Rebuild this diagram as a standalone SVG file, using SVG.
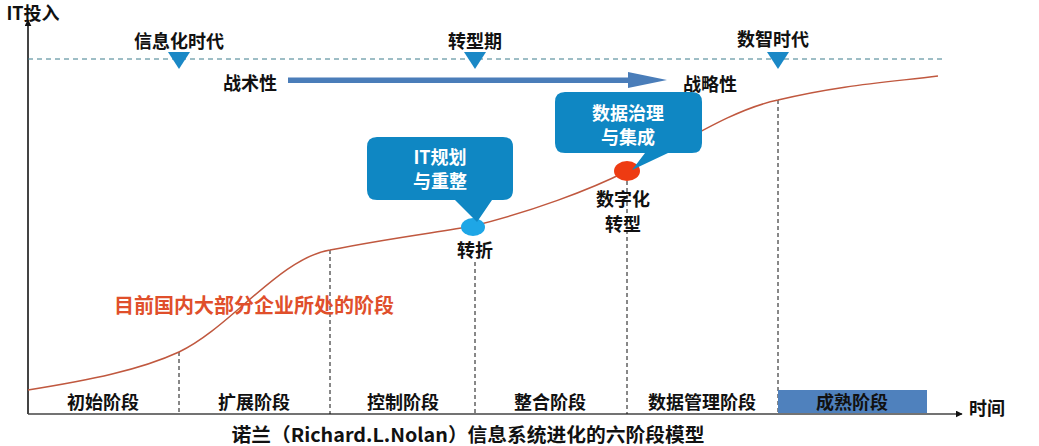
<svg xmlns="http://www.w3.org/2000/svg" width="1039" height="446" viewBox="0 0 1039 446">
<defs>
<style>
.t{font-family:"Noto Sans CJK SC","Liberation Sans",sans-serif;font-weight:bold;fill:#111;font-size:18px;text-anchor:middle}
.w{fill:#fff}
.vd{stroke:#111;stroke-width:1;stroke-dasharray:4,3;fill:none}
.tri{fill:#1a88c6}
.call{fill:#0f87c3}
</style>
<marker id="ah" viewBox="0 0 10 10" refX="9" refY="5" markerWidth="7" markerHeight="7" orient="auto" markerUnits="userSpaceOnUse">
<path d="M0,0 L10,5 L0,10 z" fill="#111"/>
</marker>
</defs>
<rect width="1039" height="446" fill="#fff"/>

<g id="axes">
<line x1="28" y1="414" x2="28" y2="20" stroke="#444" stroke-width="2" marker-end="url(#ah)"/>
<line x1="28" y1="414" x2="962" y2="414" stroke="#444" stroke-width="1.5" marker-end="url(#ah)"/>
<text class="t" x="33" y="20">IT投入</text>
<text class="t" x="987" y="415">时间</text>
</g>

<g id="dashed-top">
<line x1="28" y1="59" x2="943" y2="59" stroke="#3d7d8c" stroke-width="1" stroke-dasharray="5,4"/>
</g>

<g id="eras">
<g id="era1"><path class="tri" d="M168,52 L190,52 L179,69 z"/><text class="t" x="179" y="48">信息化时代</text></g>
<g id="era2"><path class="tri" d="M464,52 L486,52 L475,69 z"/><text class="t" x="475" y="48">转型期</text></g>
<g id="era3"><path class="tri" d="M767,52 L789,52 L778,69 z"/><text class="t" x="773" y="46">数智时代</text></g>
</g>

<g id="strategy">
<path d="M288,77.5 L628,77.5 L628,72 L667,80 L628,88 L628,83 L288,83 z" fill="#4a7db9"/>
<text class="t" x="250" y="90">战术性</text>
<text class="t" x="710" y="91">战略性</text>
</g>

<g id="connectors">
<line class="vd" x1="179" y1="352" x2="179" y2="414"/>
<line class="vd" x1="330" y1="250" x2="330" y2="414"/>
<line class="vd" x1="475" y1="262" x2="475" y2="414"/>
<line class="vd" x1="627" y1="181" x2="627" y2="414"/>
<line class="vd" x1="778" y1="100" x2="778" y2="414"/>
<path d="M28,390 C90,380 140,370 179,352 C230,328 280,258 330,250 C390,238 440,232 473,226 C530,212 590,190 627,171 C680,145 730,110 778,100 C840,85 890,82 938,76" fill="none" stroke="#c0583f" stroke-width="1.5"/>
</g>

<g id="stage-mature">
<rect x="778" y="390" width="149" height="23" fill="#4f81bd"/>
</g>

<g id="stages">
<text class="t" x="103" y="409">初始阶段</text>
<text class="t" x="254" y="409">扩展阶段</text>
<text class="t" x="403" y="409">控制阶段</text>
<text class="t" x="550" y="409">整合阶段</text>
<text class="t" x="702" y="409">数据管理阶段</text>
<text class="t" x="852" y="409">成熟阶段</text>
</g>

<g id="turn">
<ellipse cx="473" cy="227" rx="12" ry="9" fill="#1ea6e6"/>
<text class="t" x="475" y="257">转折</text>
</g>

<g id="callout1">
<path class="call" d="M377,137 L503,137 Q513,137 513,147 L513,190 Q513,200 503,200 L492,200 L477,222 L455,200 L377,200 Q367,200 367,190 L367,147 Q367,137 377,137 z"/>
<text class="t w" x="440" y="164">IT规划</text>
<text class="t w" x="440" y="188">与重整</text>
</g>

<g id="digital">
<ellipse cx="627" cy="171" rx="13" ry="10" fill="#ee3b12"/>
<text class="t" x="623" y="206">数字化</text>
<text class="t" x="623" y="231">转型</text>
</g>

<g id="callout2">
<path class="call" d="M565,92 L692,92 Q702,92 702,102 L702,143 Q702,153 692,153 L668,153 L632,170 L645,153 L565,153 Q555,153 555,143 L555,102 Q555,92 565,92 z"/>
<text class="t w" x="628" y="120">数据治理</text>
<text class="t w" x="628" y="144">与集成</text>
</g>

<g id="note">
<text class="t" x="254" y="313" style="font-size:20px;fill:#e04f2b">目前国内大部分企业所处的阶段</text>
</g>

<g id="title">
<text class="t" x="468" y="442" style="font-size:19px" textLength="473" lengthAdjust="spacingAndGlyphs">诺兰（Richard.L.Nolan）信息系统进化的六阶段模型</text>
</g>
</svg>
